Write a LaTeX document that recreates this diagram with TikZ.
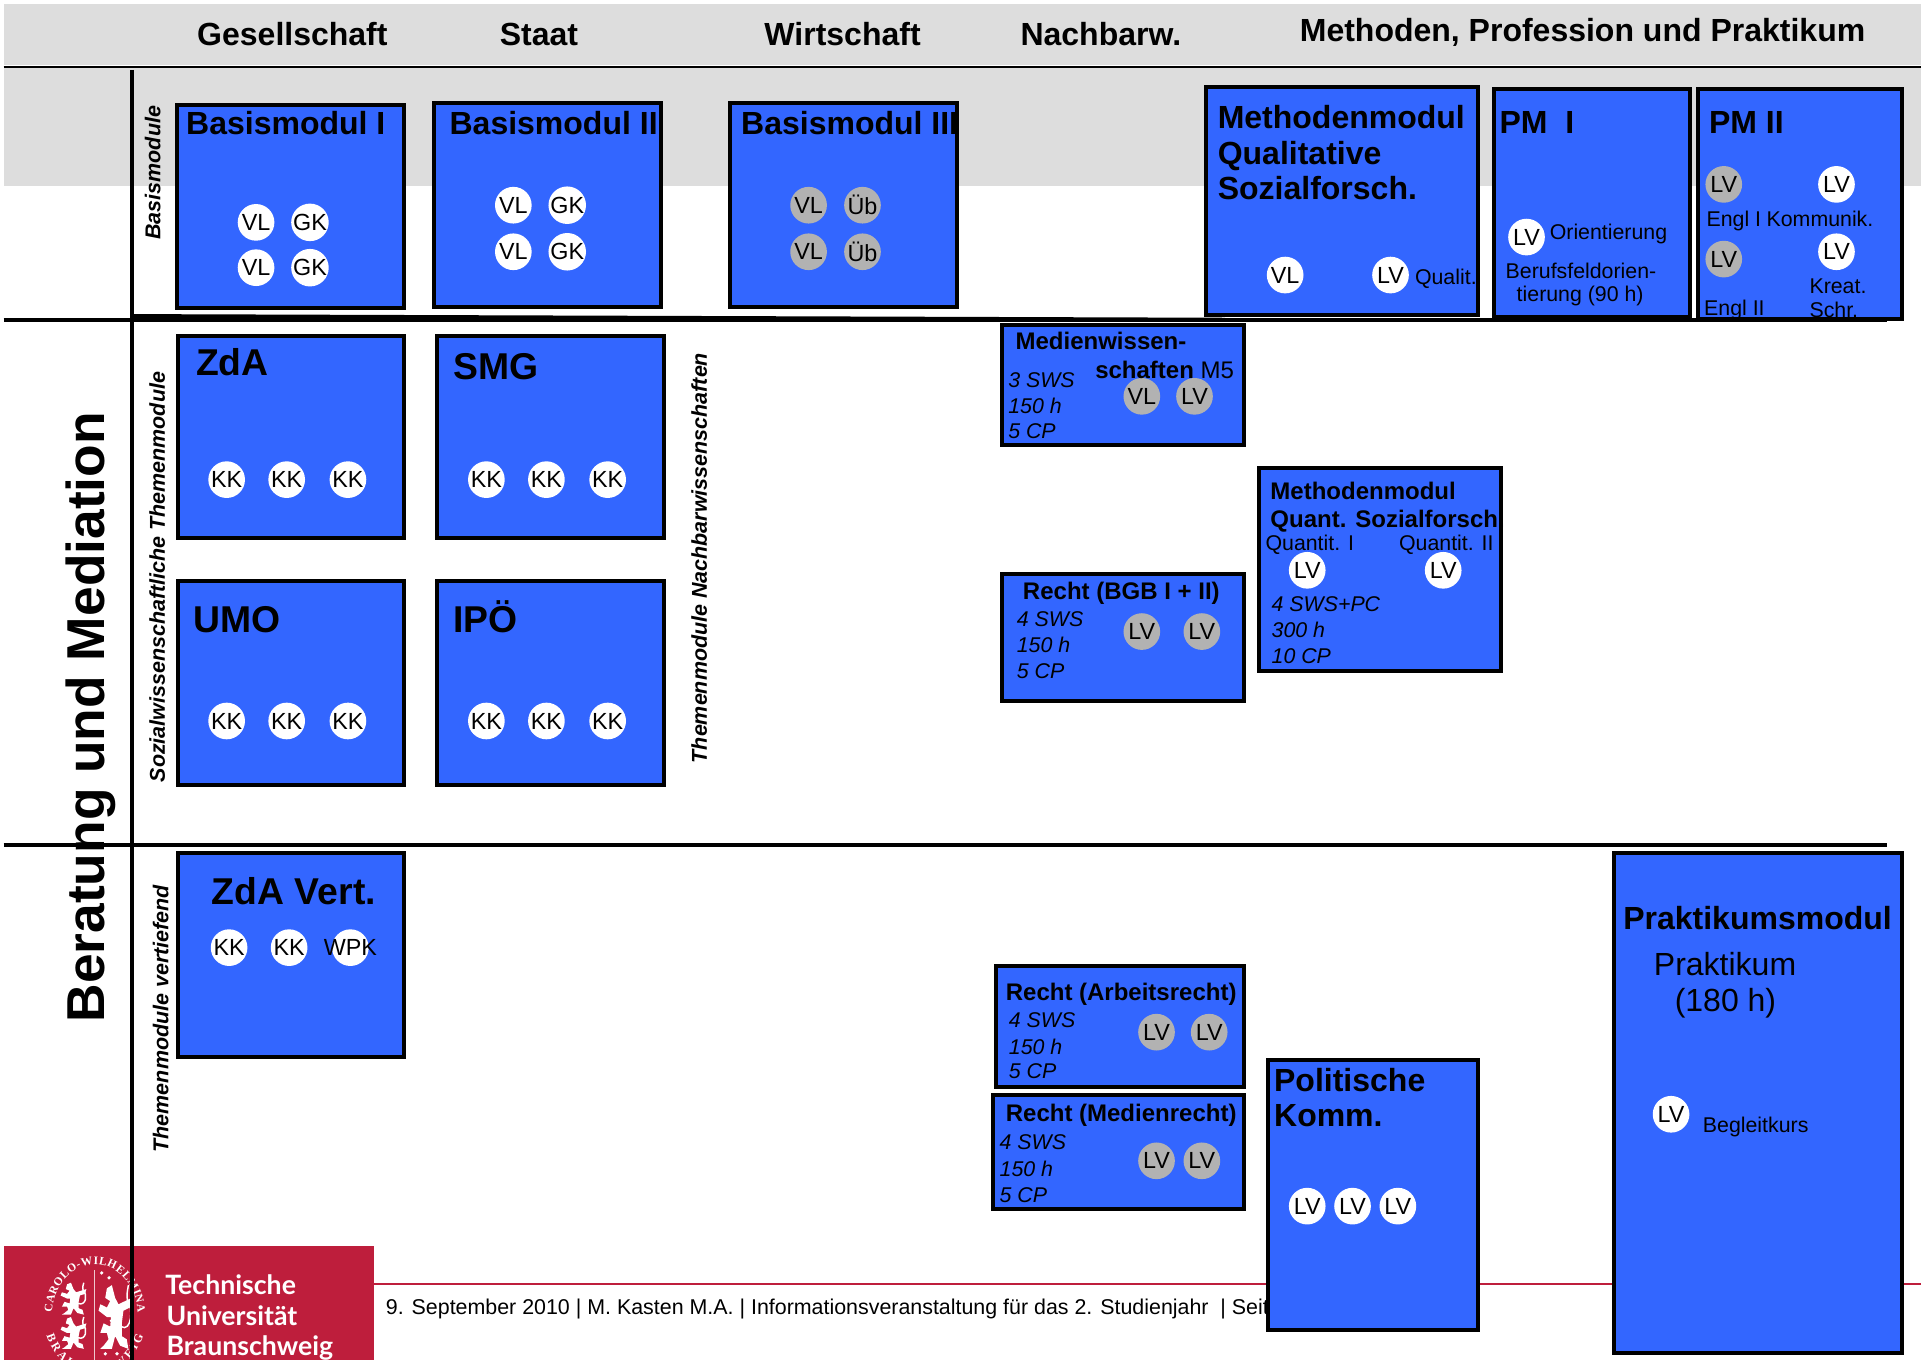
\documentclass[tikz,border=0pt]{standalone}
\usepackage{fontspec}
\setmainfont{Liberation Sans}
\newfontfamily\tufont{Lato}
\newfontfamily\sealfont{Liberation Serif}
\usetikzlibrary{decorations.text}
\definecolor{boxblue}{HTML}{3366FF}
\definecolor{band}{HTML}{DDDDDD}
\definecolor{disc}{HTML}{B2B2B2}
\definecolor{tured}{HTML}{BE1E3C}
\newcounter{nn}
\newcommand\mylab[4]{\stepcounter{nn}\node[#3] (t\thenn) at (#1,#2) {#4};}
\newcommand\mybox[5]{\node[modbox,minimum width=#3*0.91888pt-#1*0.91888pt-3pt,minimum height=#4*0.91888pt-#2*0.91888pt-3pt] (#5) at ({(#1+#3)/2},{(#2+#4)/2}) {};}
\newcommand\wdc[3]{\stepcounter{nn}\node[wdisc] (c\thenn) at (#1,{#2+0.5}) {#3};}
\newcommand\gdc[3]{\stepcounter{nn}\node[gdisc] (c\thenn) at (#1,{#2+0.5}) {#3};}
\newcommand\lionshape{(0.2,-1)--(0.5,-0.9)--(0.6,-0.6)--(0.3,-0.5)--(0.5,-0.3)--(0.9,-0.4)--(1,-0.2)--(0.5,0)--(0.25,0)--(0.3,0.3)--(0.7,0.2)--(0.9,0.5)--(0.5,0.5)--(0.4,0.7)--(0.7,0.9)--(0.9,1)--(0.2,1)--(0,0.6)--(-0.3,0.9)--(-0.8,1)--(-0.7,0.7)--(-0.4,0.6)--(-0.4,0.2)--(-0.5,-0.2)--(-0.9,-0.3)--(-1,-0.6)--(-0.6,-0.5)--(-0.2,-0.4)--(0,-0.6)--cycle}
\newcommand\lion[4]{\fill[white,shift={(#1,#2)},xscale=-#3,yscale=#4] \lionshape;
  \draw[white,line width=1.1pt,shift={(#1,#2)},xscale=-#3,yscale=#4] (-0.35,0.3) .. controls (-1,0.5) and (-1.1,-0.3) .. (-0.75,-0.5) .. controls (-0.7,-0.7) .. (-0.8,-1);}
\newcommand\spot[2]{\fill[white] (#1,#2) circle[radius=1.5];}
\tikzset{
  modbox/.style={draw=black,line width=3pt,fill=boxblue,inner sep=0pt,rectangle},
  base/.style={inner sep=0pt,outer sep=0pt,anchor=base west,text=black},
  head/.style={base,font=\fontsize{24}{24}\selectfont\bfseries},
  big/.style={base,font=\fontsize{28}{28}\selectfont\bfseries},
  sub/.style={base,font=\fontsize{18}{18}\selectfont\bfseries},
  small/.style={base,font=\fontsize{16}{16}\selectfont},
  ital/.style={base,font=\fontsize{16}{16}\selectfont\itshape},
  large/.style={base,font=\fontsize{24}{24}\selectfont},
  vert/.style={inner sep=0pt,anchor=base,rotate=90,font=\fontsize{16.1}{16.1}\selectfont\bfseries\itshape},
  tuname/.style={base,text=white,font=\tufont\fontsize{20}{20}\selectfont\bfseries},
  wdisc/.style={circle,fill=white,minimum size=27.5pt,inner sep=0pt,font=\fontsize{17.5}{17.5}\selectfont},
  gdisc/.style={wdisc,fill=disc},
  over/.style={inner sep=0pt,anchor=center,font=\fontsize{17.5}{17.5}\selectfont},
  rule/.style={line width=3pt,black},
}
\begin{document}
\begin{tikzpicture}[x=0.91888pt,y=-0.91888pt]
\useasboundingbox (0,0) rectangle (1568,1110);
% bands
\fill[band] (3,3) rectangle (1568,53);
\fill[band] (3,55) rectangle (1568,152);
% red line and footer
\coordinate (redl) at (305,1048);
\coordinate (redr) at (1568,1048);
\draw[tured,line width=1.5pt] (redl) -- (redr);
\mylab{315}{1073}{base,font=\fontsize{16.05}{16}\selectfont}{9. September 2010 | M. Kasten M.A. | Informationsveranstaltung für das 2. Studienjahr\ \ | Seit}
% logo
\fill[tured] (3,1017) rectangle (305,1110);
\begin{scope}
\clip (3,1017) rectangle (305,1110);
\draw[white!75!tured,line width=1pt] (77,1037) -- (77,1110);
\path[decorate,decoration={text along path,text align={fit to path},text={|\sealfont\fontsize{8.6}{8.6}\selectfont\bfseries\color{white}|CAROLO-WILHELMINA}}]
  (77.5,1073.4) ++(183:35 and 41.5) arc[start angle=183,end angle=357,x radius=35,y radius=41.5];
\path[decorate,decoration={text along path,text align={fit to path},text={|\sealfont\fontsize{9}{9}\selectfont\bfseries\color{white}|BRAUNSCHWEIG}}]
  (77.5,1073.4) ++(160:42 and 49) arc[start angle=160,end angle=20,x radius=42,y radius=49];
\lion{60}{1060}{10.5}{13}
\lion{60}{1088}{10.5}{13}
\lion{94}{1075}{13.5}{26}
\spot{83}{1039}\spot{89}{1043}\spot{83}{1067}\spot{91}{1078}\spot{86}{1105}\spot{95.5}{1105}
\end{scope}
\mylab{135}{1057}{tuname}{Technische}
\mylab{136}{1082}{tuname}{Universität}
\mylab{136}{1106}{tuname}{Braunschweig}
% big side label (below the rules)
\node[vert,font=\fontsize{40}{40}\selectfont\bfseries] (ber) at (85.5,585.5) {Beratung und Mediation};
% rules
\coordinate (h1l) at (3,54.4); \coordinate (h1r) at (1568,54.4);
\draw[black,line width=1.6pt] (h1l) -- (h1r);
\coordinate (h2l) at (3,261); \coordinate (h2r) at (1540,261);
\draw[rule] (h2l) -- (h2r);
\coordinate (h2a) at (108,258); \coordinate (h2b) at (1000,261);
\draw[rule] (h2a) -- (h2b);
\coordinate (h3l) at (3,690); \coordinate (h3r) at (1540,690);
\draw[rule] (h3l) -- (h3r);
\coordinate (vt) at (108,57); \coordinate (vb) at (108,1110);
\draw[rule] (vt) -- (vb);
% headers
\mylab{161}{37}{head}{Gesellschaft}
\mylab{408}{37}{head}{Staat}
\mylab{624}{37}{head}{Wirtschaft}
\mylab{833}{37}{head}{Nachbarw.}
\mylab{1061}{34}{head}{Methoden, Profession und Praktikum}
% vertical labels
\node[vert] (v1) at (131,141) {Basismodule};
\node[vert] (v2) at (134.5,471) {Sozialwissenschaftliche Themenmodule};
\node[vert] (v3) at (577,455.5) {Themenmodule Nachbarwissenschaften};
\node[vert] (v4) at (137.5,831.5) {Themenmodule vertiefend};
% boxes
\mybox{143}{83.7}{331.5}{253}{bm1}
\mybox{353}{82.5}{541}{252}{bm2}
\mybox{594}{82.5}{782.5}{252}{bm3}
\mybox{982.5}{69.4}{1208}{259}{mq}
\mybox{1218}{71}{1381}{260}{pm1}
\mybox{1384}{71}{1554}{262}{pm2}
\mybox{816}{263.6}{1017}{365}{med}
\mybox{816}{467}{1017}{574}{bgb}
\mybox{1026}{380}{1227}{549}{quant}
\mybox{143.7}{273}{331.5}{441}{zda}
\mybox{355}{273}{543.5}{441}{smg}
\mybox{143.7}{473}{331.5}{642}{umo}
\mybox{355}{473}{543.5}{642}{ipoe}
\mybox{143.7}{695}{331.4}{864}{zdav}
\mybox{811}{787}{1017}{889}{arb}
\mybox{809}{892}{1017}{988.5}{mr}
\mybox{1033}{863.6}{1208}{1087}{pol}
\mybox{1316}{695}{1554}{1106}{prak}
% Basismodule
\mylab{152}{110}{head}{Basismodul I}
\mylab{367}{110}{head}{Basismodul II}
\mylab{605}{110}{head}{Basismodul III}
\wdc{209}{181}{VL}\wdc{253}{181}{GK}\wdc{209}{218}{VL}\wdc{253}{218}{GK}
\wdc{419}{167}{VL}\wdc{463}{167}{GK}\wdc{419}{205}{VL}\wdc{463}{205}{GK}
\gdc{660}{167}{VL}\gdc{704}{167}{Üb}\gdc{660}{205}{VL}\gdc{704}{205}{Üb}
% Methodenmodul qual
\mylab{994}{105}{head}{Methodenmodul}
\mylab{994}{134}{head}{Qualitative}
\mylab{994}{162.5}{head}{Sozialforsch.}
\wdc{1049}{224}{VL}\wdc{1135}{224}{LV}
\mylab{1155}{232.5}{small}{Qualit.}
% PM I
\mylab{1224}{109}{head}{PM\ \ I}
\wdc{1246}{193}{LV}
\mylab{1265}{195.5}{small}{Orientierung}
\mylab{1229}{227}{small}{Berufsfeldorien-}
\mylab{1238}{246}{small}{tierung (90 h)}
% PM II
\mylab{1395}{109}{head}{PM II}
\gdc{1407}{150}{LV}\wdc{1499}{150}{LV}\gdc{1407}{211}{LV}\wdc{1499}{205}{LV}
\mylab{1393}{184.5}{small}{Engl I}
\mylab{1442}{184.5}{small}{Kommunik.}
\mylab{1391}{257.5}{small}{Engl II}
\mylab{1477}{239.5}{small}{Kreat.}
\mylab{1477}{259.5}{small}{Schr.}
% Themenmodule
\mylab{160}{306.5}{big}{ZdA}
\mylab{370}{309.5}{big}{SMG}
\mylab{158}{516}{big}{UMO}
\mylab{370}{516}{big}{IPÖ}
\wdc{185}{391}{KK}\wdc{234}{391}{KK}\wdc{284}{391}{KK}
\wdc{397}{391}{KK}\wdc{446}{391}{KK}\wdc{496}{391}{KK}
\wdc{185}{588}{KK}\wdc{234}{588}{KK}\wdc{284}{588}{KK}
\wdc{397}{588}{KK}\wdc{446}{588}{KK}\wdc{496}{588}{KK}
\mylab{173}{738}{big}{ZdA Vert.}
\wdc{187}{773}{KK}\wdc{236}{773}{KK}\wdc{286}{773}{}
\mylab{286}{773.5}{over}{WPK}
% Medienwissenschaften
\mylab{829}{285}{sub}{Medienwissen-}
\gdc{932}{323}{VL}\gdc{975}{323}{LV}
\mylab{894}{309}{sub}{schaften \textmd{M5}}
\mylab{823}{316}{ital}{3 SWS}
\mylab{823}{337.5}{ital}{150 h}
\mylab{823}{358}{ital}{5 CP}
% Recht BGB
\mylab{835}{489}{sub}{Recht (BGB I + II)}
\mylab{830}{511.5}{ital}{4 SWS}
\mylab{830}{532.5}{ital}{150 h}
\mylab{830}{553.5}{ital}{5 CP}
\gdc{932}{515}{LV}\gdc{981}{515}{LV}
% Quant
\mylab{1037}{407.5}{sub}{Methodenmodul}
\mylab{1037}{430.5}{sub}{Quant. Sozialforsch.}
\mylab{1033}{449.5}{small}{Quantit. I}
\mylab{1142}{449.5}{small}{Quantit. II}
\wdc{1067}{465}{LV}\wdc{1178}{465}{LV}
\mylab{1038}{499.5}{ital}{4 SWS+PC}
\mylab{1038}{520.5}{ital}{300 h}
\mylab{1038}{541.5}{ital}{10 CP}
% Recht Arbeitsrecht
\mylab{821}{816.5}{sub}{Recht (Arbeitsrecht)}
\mylab{823.5}{838.5}{ital}{4 SWS}
\mylab{823.5}{860.5}{ital}{150 h}
\mylab{823.5}{880.5}{ital}{5 CP}
\gdc{944}{842}{LV}\gdc{987}{842}{LV}
% Recht Medienrecht
\mylab{821}{915}{sub}{Recht (Medienrecht)}
\mylab{816}{938.5}{ital}{4 SWS}
\mylab{816}{960.5}{ital}{150 h}
\mylab{816}{981.5}{ital}{5 CP}
\gdc{944}{947}{LV}\gdc{981}{947}{LV}
% Politische Komm.
\mylab{1040}{891}{head}{Politische}
\mylab{1040}{919.5}{head}{Komm.}
\wdc{1067}{984}{LV}\wdc{1104}{984}{LV}\wdc{1141}{984}{LV}
% Praktikum
\mylab{1325}{759}{head}{Praktikumsmodul}
\mylab{1350}{796}{large}{Praktikum}
\mylab{1367}{826}{large}{(180 h)}
\wdc{1364}{909}{LV}
\mylab{1390}{924}{small}{Begleitkurs}
\end{tikzpicture}
\end{document}
